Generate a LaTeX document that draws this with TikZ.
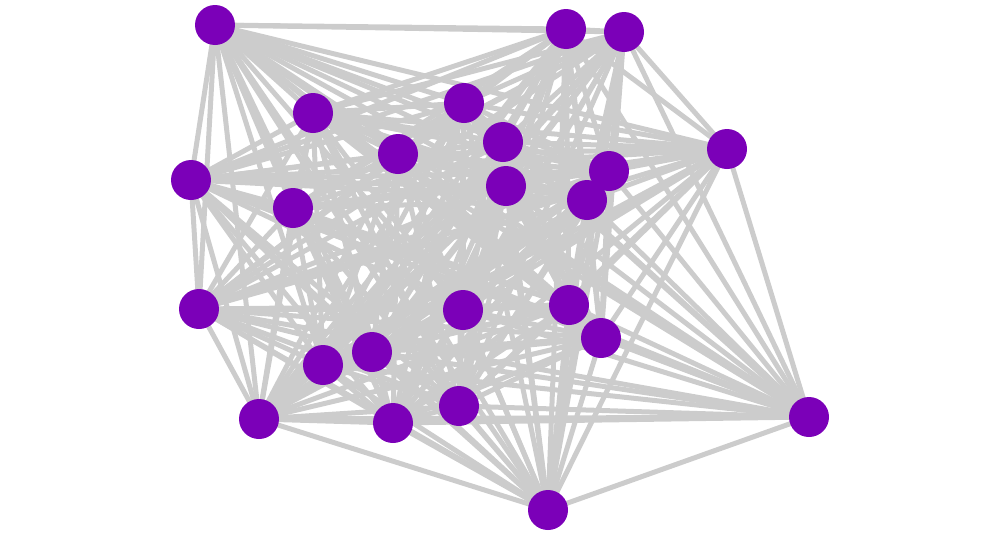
\documentclass[tikz,border=0pt]{standalone}
\usetikzlibrary{backgrounds}

\definecolor{vertexpurple}{HTML}{7B00B8}
\definecolor{edgegrey}{HTML}{CCCCCC}

\begin{document}
\begin{tikzpicture}[
  x=0.02cm, y=-0.02cm,
  vertex/.style={circle, fill=vertexpurple, draw=none, minimum size=0.8cm, inner sep=0pt},
  link/.style={draw=edgegrey, line width=0.1cm}
]
  \useasboundingbox (0,0) rectangle (1000,535);

  % vertices
  \foreach \i/\x/\y in {1/215/25, 2/566/29, 3/624/32, 4/313/113, 5/464/103,
      6/503/142, 7/727/149, 8/398/154, 9/191/180, 10/609/171, 11/506/186,
      12/587/200, 13/293/208, 14/199/309, 15/463/310, 16/569/305, 17/601/338,
      18/372/352, 19/323/365, 20/259/419, 21/393/423, 22/459/406, 23/809/417,
      24/548/510}
    \node[vertex] (n\i) at (\x,\y) {};

  % every pair is joined
  \begin{scope}[on background layer]
    \foreach \i in {1,...,23} {
      \pgfmathtruncatemacro{\first}{\i+1}
      \foreach \j in {\first,...,24}
        \draw[link] (n\i.center) -- (n\j.center);
    }
  \end{scope}
\end{tikzpicture}
\end{document}
